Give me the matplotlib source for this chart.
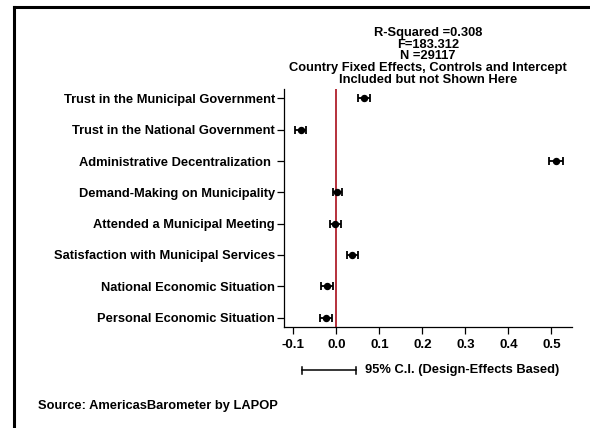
import matplotlib
matplotlib.use("Agg")
import matplotlib.pyplot as plt
from matplotlib.lines import Line2D

plt.rcParams['font.family'] = ['Liberation Sans', 'DejaVu Sans']
plt.rcParams['font.weight'] = 'bold'

# Regression coefficients with 95% confidence bounds
variables = [
    "Trust in the Municipal Government",
    "Trust in the National Government",
    "Administrative Decentralization ",
    "Demand-Making on Municipality",
    "Attended a Municipal Meeting",
    "Satisfaction with Municipal Services",
    "National Economic Situation",
    "Personal Economic Situation",
]
coefficients = [0.064, -0.083, 0.511, 0.002, -0.003, 0.036, -0.022, -0.025]
ci_low = [0.050, -0.096, 0.495, -0.009, -0.015, 0.024, -0.036, -0.038]
ci_high = [0.078, -0.071, 0.528, 0.014, 0.011, 0.051, -0.009, -0.011]

x_ticks = [-0.1, 0.0, 0.1, 0.2, 0.3, 0.4, 0.5]
x_tick_labels = ["-0.1", "0.0", "0.1", "0.2", "0.3", "0.4", "0.5"]

stats_lines = [
    "R-Squared =0.308",
    "F=183.312",
    "N =29117",
    "Country Fixed Effects, Controls and Intercept",
    "Included but not Shown Here",
]

W, H = 590, 428
fig = plt.figure(figsize=(W / 100, H / 100), dpi=100)
ax = fig.add_axes([284 / W, 1 - 327 / H, (572 - 284) / W, (327 - 89) / H])

ypos = list(range(len(variables)))
err_lo = [c - l for c, l in zip(coefficients, ci_low)]
err_hi = [h - c for c, h in zip(coefficients, ci_high)]

ax.axvline(0, color="#b0202c", lw=1.3, zorder=1)
ax.errorbar(coefficients, ypos, xerr=[err_lo, err_hi], fmt="o", color="black",
            ms=4.3, elinewidth=1.3, capsize=3, capthick=1.3, zorder=3)

ax.set_xlim(-0.122, 0.548)
ax.set_ylim(len(variables) - 1 + 0.3, -0.3)
ax.set_yticks(ypos)
ax.set_yticklabels(variables, fontsize=9.3, fontweight="bold")
ax.set_xticks(x_ticks)
ax.set_xticklabels(x_tick_labels, fontsize=9.6, fontweight="bold")
ax.tick_params(axis="both", direction="out", length=5, width=0.9, colors="black")
ax.tick_params(axis="x", pad=4)
ax.tick_params(axis="y", pad=1.5)
for side in ("top", "right"):
    ax.spines[side].set_visible(False)
for side in ("left", "bottom"):
    ax.spines[side].set_linewidth(0.9)

# Model statistics above the plot
for i, line in enumerate(stats_lines):
    fig.text(428 / W, 1 - (33 + i * 11.7) / H, line, ha="center", va="center",
             fontsize=9.3, fontweight="bold")

# Confidence-interval key
fig.add_artist(Line2D([302 / W, 356 / W], [1 - 370 / H] * 2, color="black", lw=1.1))
for xe in (302, 356):
    fig.add_artist(Line2D([xe / W] * 2, [1 - 366.5 / H, 1 - 373.5 / H], color="black", lw=1.1))
fig.text(365 / W, 1 - 370 / H, "95% C.I. (Design-Effects Based)", ha="left", va="center",
         fontsize=9.3, fontweight="bold")

fig.text(38 / W, 1 - 406 / H, "Source: AmericasBarometer by LAPOP", ha="left", va="center",
         fontsize=9.3, fontweight="bold")

# Frame lines along the top and left
fig.add_artist(Line2D([14 / W, 1.0], [1 - 7 / H] * 2, color="black", lw=2.2))
fig.add_artist(Line2D([14 / W] * 2, [0.0, 1 - 7 / H], color="black", lw=2.2))

fig.savefig("out.png", dpi=100)
